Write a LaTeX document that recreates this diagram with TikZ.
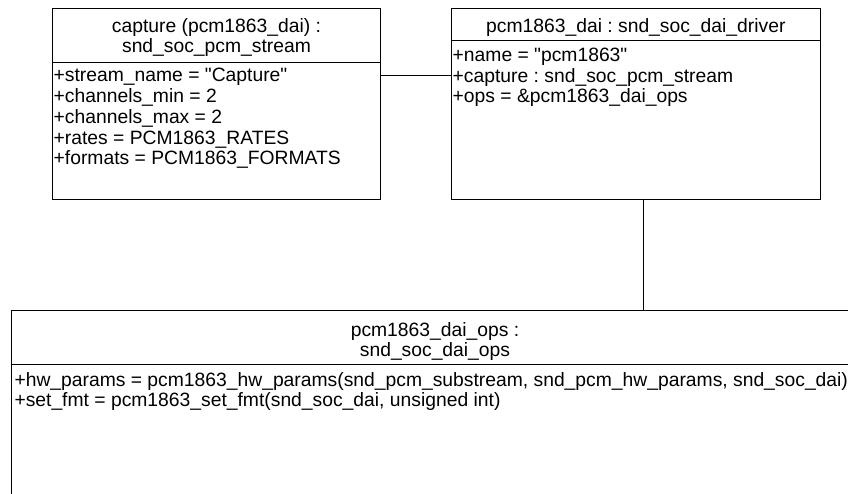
\documentclass[tikz,border=0pt]{standalone}
\usepackage{fontspec}
\setmainfont{Liberation Sans}[Ligatures=TeXOff]
\newcommand\umlfont{\fontsize{19.3}{21}\selectfont\frenchspacing}
\begin{document}
\begin{tikzpicture}[x=1pt,y=-1pt,
  umlbox/.style={draw=black, line width=1pt, rectangle, inner sep=0pt, outer sep=0pt, anchor=north west},
  sepline/.style={draw=black, line width=1pt},
  link/.style={draw=black, line width=1pt},
  attr/.style={anchor=base west, inner sep=0pt, font=\umlfont},
  title/.style={anchor=base, inner sep=0pt, font=\umlfont}]
\useasboundingbox (0,0) rectangle (848,494);
\clip (0,0) rectangle (848,494);

% capture stream object
\node[umlbox, minimum width=328.4pt, minimum height=191pt] (cap) at (52.3,8.3) {};
\draw[sepline] (52.3,62.3) -- (380.7,62.3);
\node[title] (capt1) at (216.5,33) {capture (pcm1863\_dai) :};
\node[title] (capt2) at (216.5,53) {snd\_soc\_pcm\_stream};
\node[attr] (capa1) at (53.5,82)    {+stream\_name = "Capture"};
\node[attr] (capa2) at (53.5,102.75) {+channels\_min = 2};
\node[attr] (capa3) at (53.5,123.5)  {+channels\_max = 2};
\node[attr] (capa4) at (53.5,144.25) {+rates = PCM1863\_RATES};
\node[attr] (capa5) at (53.5,165)    {+formats = PCM1863\_FORMATS};

% DAI driver object
\node[umlbox, minimum width=369.7pt, minimum height=191pt] (drv) at (451,8.3) {};
\draw[sepline] (451,40.7) -- (820.7,40.7);
\node[title] (drvt) at (635.85,33) {pcm1863\_dai : snd\_soc\_dai\_driver};
\node[attr] (drva1) at (452.5,61.5)  {+name = "pcm1863"};
\node[attr] (drva2) at (452.5,82.25) {+capture : snd\_soc\_pcm\_stream};
\node[attr] (drva3) at (452.5,103)   {+ops = \&pcm1863\_dai\_ops};

% DAI ops object
\node[umlbox, minimum width=847.4pt, minimum height=230pt] (ops) at (11.3,310.7) {};
\draw[sepline] (11.3,364.5) -- (858.7,364.5);
\node[title] (opst1) at (435,336) {pcm1863\_dai\_ops :};
\node[title] (opst2) at (435,356) {snd\_soc\_dai\_ops};
\node[attr] (opsa1) at (14.3,386)    {+hw\_params = pcm1863\_hw\_params(snd\_pcm\_substream, snd\_pcm\_hw\_params, snd\_soc\_dai)};
\node[attr] (opsa2) at (14.3,406.75) {+set\_fmt = pcm1863\_set\_fmt(snd\_soc\_dai, unsigned int)};

% links
\coordinate (hj) at (0,76);
\coordinate (vj) at (643.3,0);
\draw[link] (cap.east |- hj) -- (drv.west |- hj);
\draw[link] (drv.south -| vj) -- (ops.north -| vj);
\end{tikzpicture}
\end{document}
